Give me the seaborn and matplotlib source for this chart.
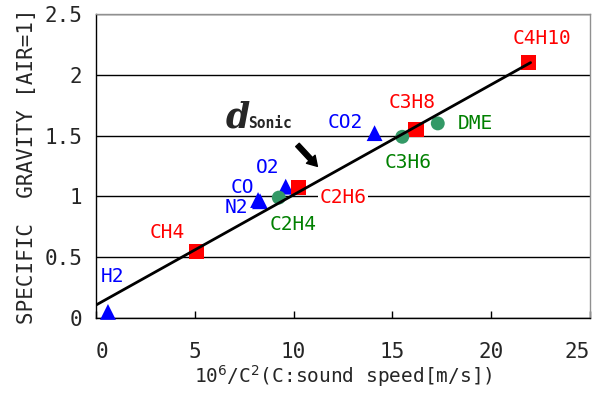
"""Specific gravity vs. 10^6/C^2 for several gases."""
import matplotlib
matplotlib.use("Agg")
import matplotlib.pyplot as plt
import pandas as pd
import seaborn as sns

# Daten
gases = ["H2", "CH4", "N2", "CO", "O2", "C2H4", "C2H6", "CO2", "C3H6", "C3H8", "DME", "C4H10"]
inv_c2 = [0.6, 5.1, 8.3, 8.2, 9.6, 9.25, 10.25, 14.1, 15.5, 16.2, 17.3, 21.9]
spec_grav = [0.05, 0.55, 0.96, 0.97, 1.08, 0.99, 1.07, 1.52, 1.49, 1.55, 1.60, 2.10]
group = ["inorganic", "alkane", "inorganic", "inorganic", "inorganic", "other",
         "alkane", "inorganic", "other", "alkane", "other", "alkane"]

# Beschriftungspositionen
label_x = [0.85, 3.6, 7.1, 7.4, 8.7, 10.0, 12.5, 12.6, 15.8, 16.0, 19.2, 22.6]
label_y = [0.34, 0.70, 0.91, 1.07, 1.24, 0.77, 0.99, 1.61, 1.28, 1.77, 1.60, 2.30]

# Ausgleichsgerade
fit_x = [0.0, 22.0]
fit_y = [0.107, 2.10]

x_ticks = [0, 5, 10, 15, 20, 25]
y_ticks = [0, 0.5, 1, 1.5, 2, 2.5]

marker_color = {"alkane": "#ff0000", "inorganic": "#0000ff", "other": "#339966"}
text_color = {"alkane": "#ff0000", "inorganic": "#0000ff", "other": "#008000"}
marker_shape = {"alkane": "s", "inorganic": "^", "other": "o"}
marker_size = {"alkane": 120, "inorganic": 130, "other": 100}

sns.set_style("white")
plt.rcParams["font.family"] = ["DejaVu Sans Mono"]

df = pd.DataFrame({"gas": gases, "x": inv_c2, "y": spec_grav, "group": group})

fig = plt.figure(figsize=(5.97, 3.99), dpi=100)
ax = fig.add_axes([0.161, 0.203, 0.827, 0.762])

for grp in ["inorganic", "alkane", "other"]:
    sub = df[df["group"] == grp]
    sns.scatterplot(data=sub, x="x", y="y", marker=marker_shape[grp],
                    color=marker_color[grp], s=marker_size[grp], edgecolor="none",
                    ax=ax, zorder=3, clip_on=False, legend=False)

sns.lineplot(x=fit_x, y=fit_y, color="black", linewidth=2, ax=ax, zorder=4)

for name, lx, ly, grp in zip(gases, label_x, label_y, group):
    bbox = None
    if name == "C2H6":
        bbox = dict(facecolor="white", edgecolor="none", pad=1)
    ax.text(lx, ly, name, color=text_color[grp], fontsize=14,
            ha="center", va="center", zorder=5, bbox=bbox)

# d_Sonic mit Pfeil
ax.text(7.17, 1.65, "d", fontsize=25, family="DejaVu Serif", style="italic",
        weight="bold", ha="center", va="center", zorder=5)
ax.text(7.7, 1.60, "Sonic", fontsize=10.5, family="DejaVu Sans Mono",
        weight="bold", ha="left", va="center", zorder=5)
ax.annotate("", xy=(11.3, 1.23), xytext=(10.1, 1.44),
            arrowprops=dict(arrowstyle="simple,head_length=0.7,head_width=0.85,tail_width=0.35",
                            color="black"), zorder=5)

ax.set_xlim(0, 25)
ax.set_ylim(0, 2.5)
ax.set_xticks(x_ticks)
ax.set_xticklabels([str(t) for t in x_ticks])
ax.set_yticks(y_ticks)
ax.set_yticklabels(["0", "0.5", "1", "1.5", "2", "2.5"])
ax.yaxis.grid(True, color="black", linewidth=1)
ax.xaxis.grid(False)
ax.set_axisbelow(True)

ax.tick_params(axis="x", direction="in", length=5, width=1, color="black",
               pad=17, labelsize=15, bottom=True)
ax.tick_params(axis="y", length=0, pad=10, labelsize=15)
xlabels = ax.get_xticklabels()
xlabels[0].set_ha("left")
xlabels[-1].set_ha("right")

for side in ["left", "bottom"]:
    ax.spines[side].set_color("black")
    ax.spines[side].set_linewidth(1)
for side in ["top", "right"]:
    ax.spines[side].set_color("#909090")
    ax.spines[side].set_linewidth(1)

ax.set_xlabel("10$^6$/C$^2$(C:sound speed[m/s])", fontsize=14, labelpad=1)
ax.set_ylabel("SPECIFIC  GRAVITY [AIR=1]", fontsize=15, labelpad=5)

fig.savefig("out.png", dpi=100)
